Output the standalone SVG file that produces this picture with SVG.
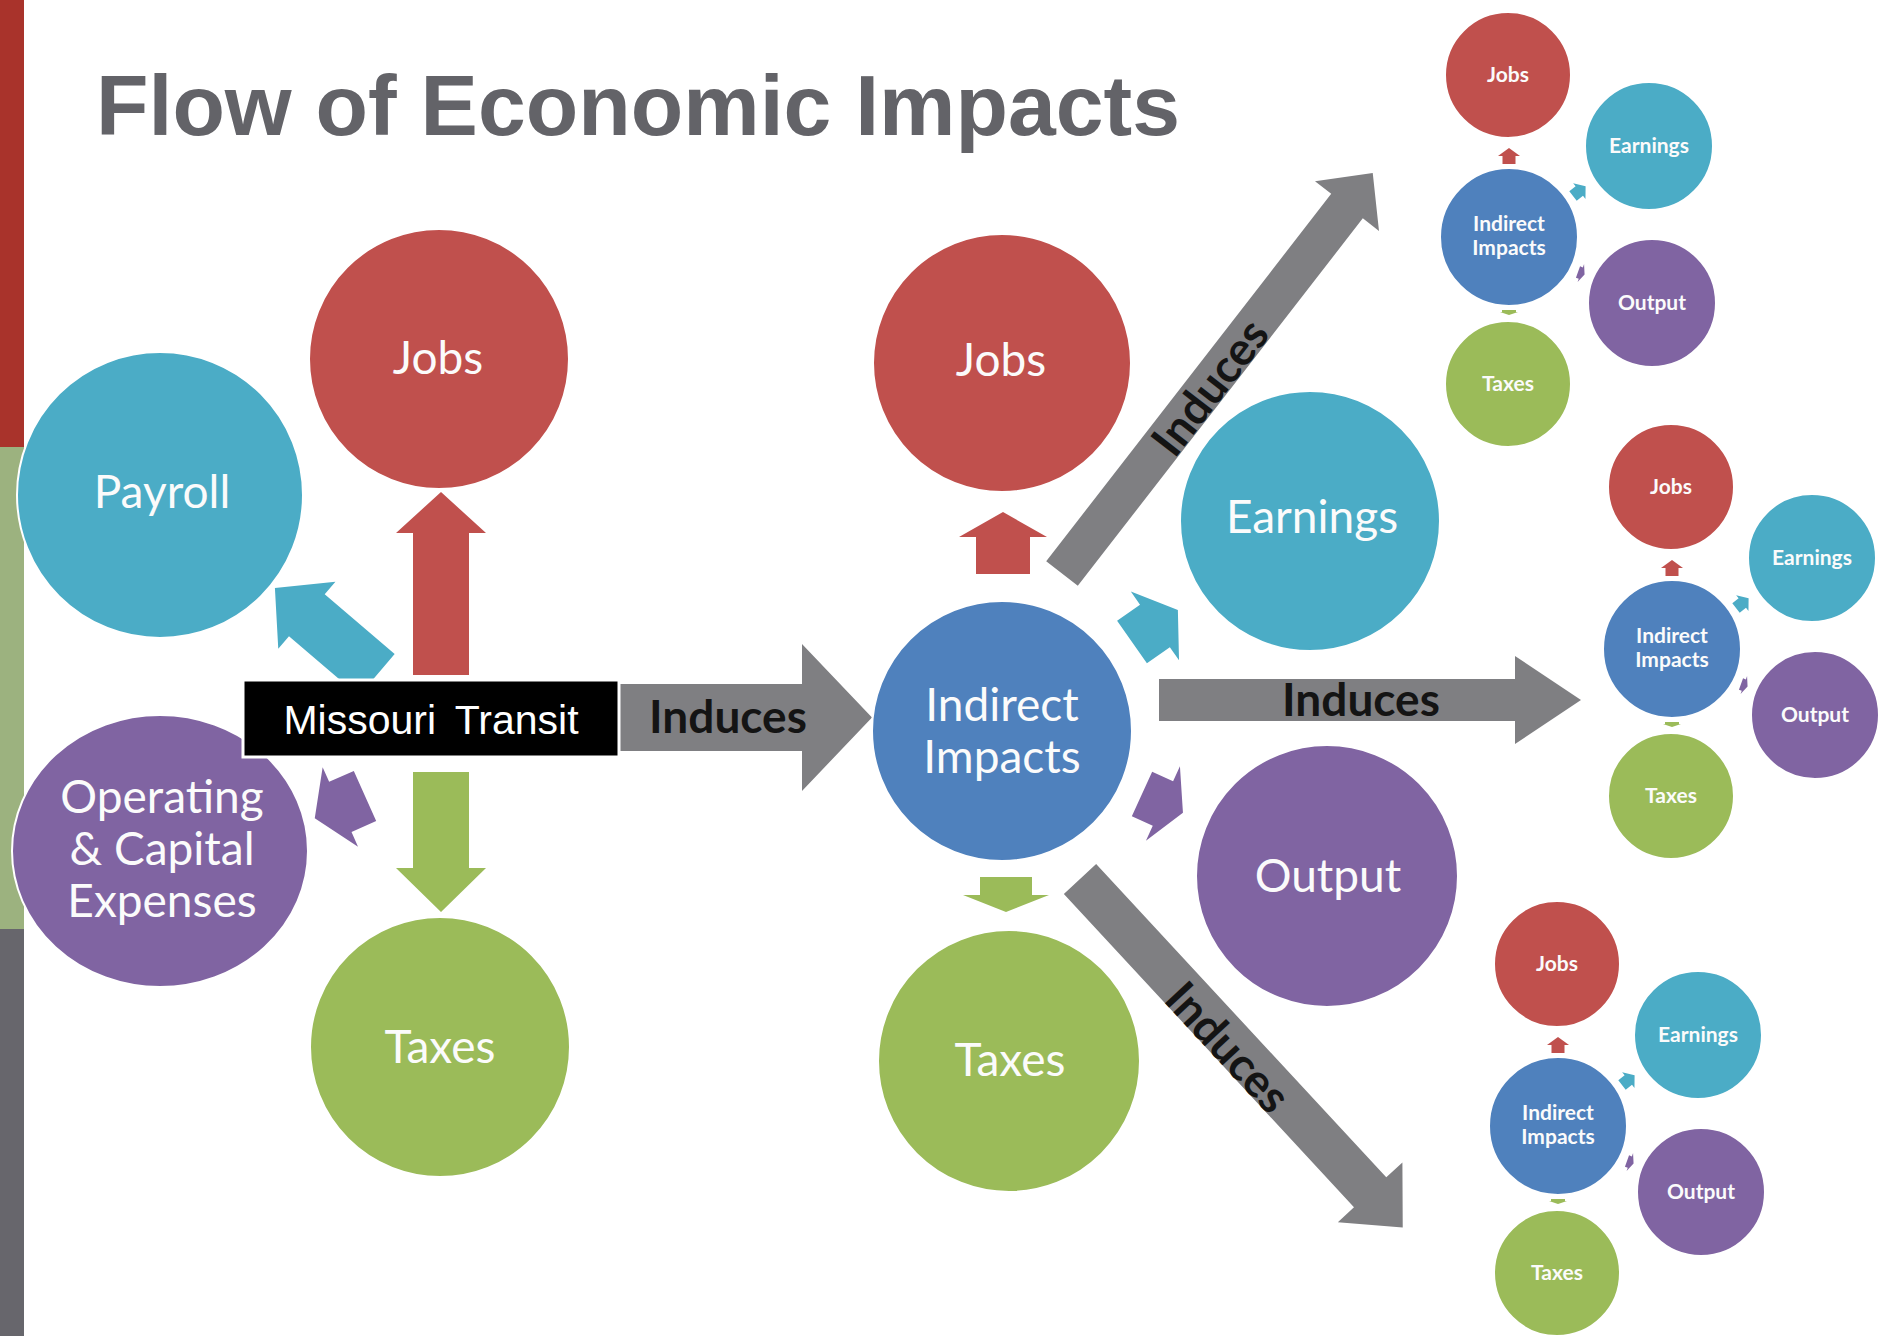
<svg xmlns="http://www.w3.org/2000/svg" width="1878" height="1336" viewBox="0 0 1878 1336">
<style>
.big{font-family:Lato,"Open Sans","Liberation Sans",sans-serif;font-size:46px;fill:#fbfbfb;text-anchor:middle}
.sm{font-family:Lato,"Open Sans","Liberation Sans",sans-serif;font-size:21px;font-weight:700;fill:#fbfbfb;text-anchor:middle}
.ind{font-family:Lato,"Open Sans","Liberation Sans",sans-serif;font-size:46px;font-weight:700;fill:#141414;text-anchor:middle}
.red{fill:#C0504D}
.teal{fill:#4BACC6}
.purple{fill:#8064A2}
.green{fill:#9BBB59}
.blue{fill:#4F81BD}
.gray{fill:#7F7F82}
circle,ellipse{stroke:#ffffff;stroke-width:2}
</style>
<rect x="0" y="0" width="1878" height="1336" fill="#ffffff"/>
<g id="side-bar">
<rect x="0" y="0" width="24" height="447" fill="#A9332B"/>
<rect x="0" y="447" width="24" height="482" fill="#9CB27F"/>
<rect x="0" y="929" width="24" height="407" fill="#67666C"/>
</g>
<text id="title" x="96" y="135" font-family="'Liberation Sans',Arial,sans-serif" font-size="86" font-weight="700" fill="#636368" textLength="1084" lengthAdjust="spacingAndGlyphs">Flow of Economic Impacts</text>

<g id="connectors">
<polygon class="gray" points="600,684 802,684 802,644 872,717.5 802,791 802,751 600,751"/>
<polygon class="gray" points="1159,679 1515,679 1515,656 1581,700 1515,744 1515,721 1159,721"/>
<g transform="translate(1062,573.5) rotate(-52.2)">
<polygon class="gray" points="0,-20 465,-20 465,-40.5 507,0 465,40.5 465,20 0,20"/>
<text class="ind" x="238" y="19">Induces</text>
</g>
<g transform="translate(1080,879) rotate(47.2)">
<polygon class="gray" points="0,-22 427,-22 427,-44 475,0 427,44 427,22 0,22"/>
<text class="ind" x="224" y="22">Induces</text>
</g>
<text class="ind" x="728" y="733">Induces</text>
<text class="ind" x="1361" y="716">Induces</text>

<polygon class="red" transform="translate(441,675) rotate(-90)" points="0,-28 142,-28 142,-45 183,0 142,45 142,28 0,28"/>
<polygon class="teal" transform="translate(376.8,675) rotate(220.5)" points="0,-27.5 92,-27.5 92,-44 134,0 92,44 92,27.5 0,27.5"/>
<polygon class="purple" transform="translate(365,796) rotate(156)" points="0,-27.5 27,-27.5 27,-43.5 55,0 27,43.5 27,27.5 0,27.5"/>
<polygon class="green" transform="translate(441,772) rotate(90)" points="0,-28 96,-28 96,-45 140,0 96,45 96,28 0,28"/>

<polygon class="red" transform="translate(1003,574) rotate(-90)" points="0,-27 37,-27 37,-44 62,0 37,44 37,27 0,27"/>
<polygon class="teal" transform="translate(1132,642) rotate(-35)" points="0,-26 28,-26 28,-42 56,0 28,42 28,26 0,26"/>
<polygon class="purple" transform="translate(1142,794) rotate(24.5)" points="0,-24.5 23,-24.5 23,-41 45,0 23,41 23,24.5 0,24.5"/>
<polygon class="green" transform="translate(1006,877) rotate(90)" points="0,-26 18,-26 18,-43 35,0 18,43 18,26 0,26"/>

<g id="tiny-arrows-top">
<polygon class="red" transform="translate(1509,164) rotate(-90)" points="0,-6.5 8,-6.5 8,-11 16,0 8,11 8,6.5 0,6.5"/>
<polygon class="teal" transform="translate(1573,196) rotate(-38)" points="0,-6 8,-6 8,-10 16,0 8,10 8,6 0,6"/>
<polygon class="purple" transform="translate(1578,272) rotate(20)" points="0,-6 3,-6 3,-9.5 7,0 3,9.5 3,6 0,6"/>
<polygon class="green" transform="translate(1509,310) rotate(90)" points="0,-7 2,-7 2,-9 5,0 2,9 2,7 0,7"/>
</g>
<g id="tiny-arrows-middle" transform="translate(163,412)">
<polygon class="red" transform="translate(1509,164) rotate(-90)" points="0,-6.5 8,-6.5 8,-11 16,0 8,11 8,6.5 0,6.5"/>
<polygon class="teal" transform="translate(1573,196) rotate(-38)" points="0,-6 8,-6 8,-10 16,0 8,10 8,6 0,6"/>
<polygon class="purple" transform="translate(1578,272) rotate(20)" points="0,-6 3,-6 3,-9.5 7,0 3,9.5 3,6 0,6"/>
<polygon class="green" transform="translate(1509,310) rotate(90)" points="0,-7 2,-7 2,-9 5,0 2,9 2,7 0,7"/>
</g>
<g id="tiny-arrows-bottom" transform="translate(49,889)">
<polygon class="red" transform="translate(1509,164) rotate(-90)" points="0,-6.5 8,-6.5 8,-11 16,0 8,11 8,6.5 0,6.5"/>
<polygon class="teal" transform="translate(1573,196) rotate(-38)" points="0,-6 8,-6 8,-10 16,0 8,10 8,6 0,6"/>
<polygon class="purple" transform="translate(1578,272) rotate(20)" points="0,-6 3,-6 3,-9.5 7,0 3,9.5 3,6 0,6"/>
<polygon class="green" transform="translate(1509,310) rotate(90)" points="0,-7 2,-7 2,-9 5,0 2,9 2,7 0,7"/>
</g>
</g>

<g id="node-payroll"><circle class="teal" cx="160" cy="495" r="143"/><text class="big" x="162" y="508">Payroll</text></g>
<g id="node-jobs-direct"><circle class="red" cx="439" cy="359" r="130"/><text class="big" x="438" y="374">Jobs</text></g>
<g id="node-operating"><ellipse class="purple" cx="160" cy="851" rx="148" ry="136"/><text class="big" x="162" y="813">Operating</text><text class="big" x="162" y="865">&amp; Capital</text><text class="big" x="162" y="917">Expenses</text></g>
<g id="node-taxes-direct"><circle class="green" cx="440" cy="1047" r="130"/><text class="big" x="440" y="1063">Taxes</text></g>

<g id="node-missouri-transit">
<rect x="243" y="680" width="376" height="77" fill="#000000" stroke="#ffffff" stroke-width="3"/>
<text x="431" y="734" font-family="'Liberation Sans',Arial,sans-serif" font-size="41" fill="#ffffff" text-anchor="middle" word-spacing="8">Missouri Transit</text>
</g>

<g id="node-indirect"><circle class="blue" cx="1002" cy="731" r="130"/><text class="big" x="1002" y="721">Indirect</text><text class="big" x="1002" y="773">Impacts</text></g>
<g id="node-jobs"><circle class="red" cx="1002" cy="363" r="129"/><text class="big" x="1001" y="376">Jobs</text></g>
<g id="node-earnings"><circle class="teal" cx="1310" cy="521" r="130"/><text class="big" x="1312" y="533">Earnings</text></g>
<g id="node-output"><circle class="purple" cx="1327" cy="876" r="131"/><text class="big" x="1328" y="892">Output</text></g>
<g id="node-taxes"><circle class="green" cx="1009" cy="1061" r="131"/><text class="big" x="1010" y="1076">Taxes</text></g>

<g id="cluster-top">
<g id="top-jobs"><circle class="red" cx="1508" cy="75" r="63"/><text class="sm" x="1508" y="82">Jobs</text></g>
<g id="top-earnings"><circle class="teal" cx="1649" cy="146" r="64"/><text class="sm" x="1649" y="153">Earnings</text></g>
<g id="top-indirect"><circle class="blue" cx="1509" cy="237" r="69"/><text class="sm" x="1509" y="231">Indirect</text><text class="sm" x="1509" y="255">Impacts</text></g>
<g id="top-output"><circle class="purple" cx="1652" cy="303" r="64"/><text class="sm" x="1652" y="310">Output</text></g>
<g id="top-taxes"><circle class="green" cx="1508" cy="384" r="63"/><text class="sm" x="1508" y="391">Taxes</text></g>
</g>
<g id="cluster-middle" transform="translate(163,412)">
<g id="mid-jobs"><circle class="red" cx="1508" cy="75" r="63"/><text class="sm" x="1508" y="82">Jobs</text></g>
<g id="mid-earnings"><circle class="teal" cx="1649" cy="146" r="64"/><text class="sm" x="1649" y="153">Earnings</text></g>
<g id="mid-indirect"><circle class="blue" cx="1509" cy="237" r="69"/><text class="sm" x="1509" y="231">Indirect</text><text class="sm" x="1509" y="255">Impacts</text></g>
<g id="mid-output"><circle class="purple" cx="1652" cy="303" r="64"/><text class="sm" x="1652" y="310">Output</text></g>
<g id="mid-taxes"><circle class="green" cx="1508" cy="384" r="63"/><text class="sm" x="1508" y="391">Taxes</text></g>
</g>
<g id="cluster-bottom" transform="translate(49,889)">
<g id="bot-jobs"><circle class="red" cx="1508" cy="75" r="63"/><text class="sm" x="1508" y="82">Jobs</text></g>
<g id="bot-earnings"><circle class="teal" cx="1649" cy="146" r="64"/><text class="sm" x="1649" y="153">Earnings</text></g>
<g id="bot-indirect"><circle class="blue" cx="1509" cy="237" r="69"/><text class="sm" x="1509" y="231">Indirect</text><text class="sm" x="1509" y="255">Impacts</text></g>
<g id="bot-output"><circle class="purple" cx="1652" cy="303" r="64"/><text class="sm" x="1652" y="310">Output</text></g>
<g id="bot-taxes"><circle class="green" cx="1508" cy="384" r="63"/><text class="sm" x="1508" y="391">Taxes</text></g>
</g>
</svg>
